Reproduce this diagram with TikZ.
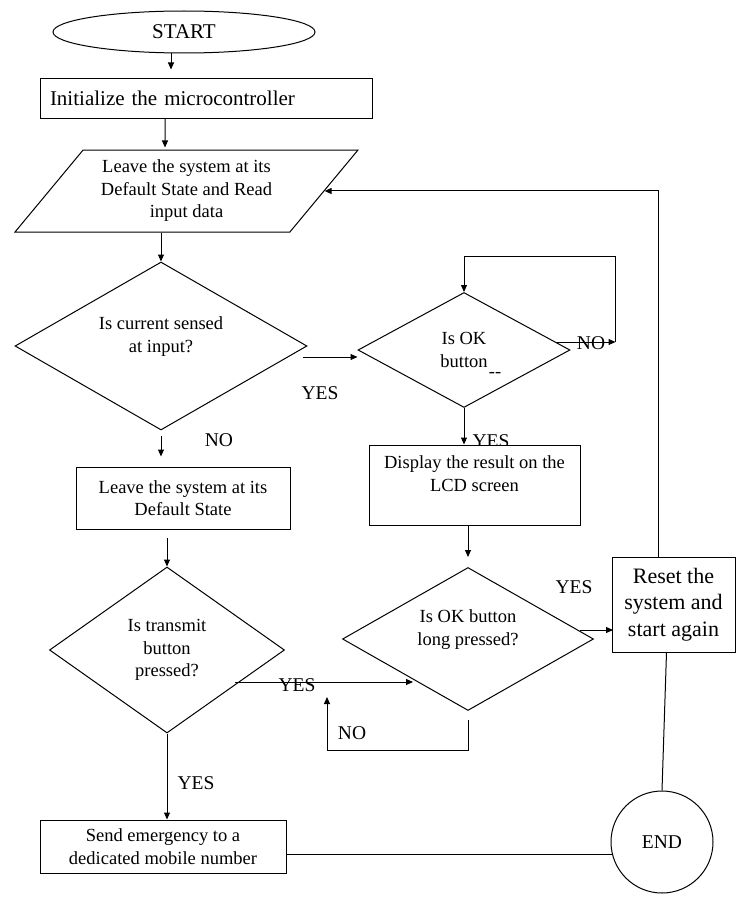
\documentclass[tikz,border=0pt]{standalone}
\usepackage{fontspec}
\setmainfont{Liberation Serif}
\usetikzlibrary{positioning, shapes.geometric, arrows.meta, calc}

\newcommand{\boxfont}{\fontsize{18.5}{22.5}\selectfont}
\newcommand{\lblfont}{\fontsize{19.5}{23}\selectfont}
\newcommand{\bigfont}{\fontsize{21}{25}\selectfont}
\newcommand{\resetfont}{\fontsize{22}{26.5}\selectfont}

\begin{document}
\begin{tikzpicture}[
  x=1pt, y=-1pt,
  >={Triangle[length=7pt, width=6pt]},
  line width=1pt,
  every node/.style={font=\boxfont},
  procbox/.style={draw, fill=white, align=center, inner sep=2pt},
  iobox/.style={draw, fill=white, trapezium, trapezium left angle=44,
               trapezium right angle=136, trapezium stretches body,
               align=center, inner sep=2pt},
  decision/.style={draw, fill=white, diamond, align=center, inner sep=0pt},
  answer/.style={font=\lblfont, inner sep=0pt}
]
\useasboundingbox (0,0) rectangle (741,899);

% ---- Start and initialisation ----
\node[draw, ellipse, minimum width=262pt, minimum height=42pt, font=\bigfont]
  (start) at (184,32) {START};
\node[procbox, minimum width=332pt, minimum height=40pt, text width=312pt,
      align=left, inner xsep=10pt, font=\bigfont]
  (init) at (206,98) {Initialize the microcontroller};
\node[iobox, minimum width=343pt, minimum height=82pt] (readin) at (186.5,191)
  {Leave the system at its\\Default State and Read\\input data};

% ---- Left column ----
\node[decision, minimum width=292pt, minimum height=168pt, aspect=1.74]
  (q1) at (161,346) {Is current sensed\\at input?\\\mbox{}};
\node[procbox, minimum width=214pt, minimum height=62pt] (dflt) at (183,498)
  {Leave the system at its\\Default State};
\node[decision, minimum width=235pt, minimum height=166pt, aspect=1.42]
  (q2) at (167,650) {Is transmit\\button\\pressed?};
\node[procbox, minimum width=246pt, minimum height=53pt] (send) at (163,846.5)
  {Send emergency to a\\dedicated mobile number};

% ---- Middle column ----
\node[decision, minimum width=212pt, minimum height=115pt, aspect=1.84]
  (q4) at (464,350) {Is OK\\button};
\node (q4mark) at (495,375) {-{}-};
\node[answer] (yes4) at (491,441) {YES};
\node[procbox, minimum width=211pt, minimum height=80pt] (disp) at (474.5,485)
  {Display the result on the\\LCD screen\\\mbox{}};
\node[decision, minimum width=251pt, minimum height=143pt, aspect=1.76]
  (q3) at (468,639) {Is OK button\\long pressed?\\\mbox{}};

% ---- Right column ----
\node[procbox, minimum width=123pt, minimum height=95pt, font=\resetfont]
  (reset) at (673.5,604.5) {Reset the\\system and\\start again};
\node[draw, circle, minimum size=102pt, font=\lblfont] (end) at (662,842) {END};

% ---- Answer labels ----
\node[answer] (yes1) at (320,393) {YES};
\node[answer] (no1) at (219,440) {NO};
\node[answer] (no4) at (591,343) {NO};
\node[answer] (yes2) at (297,685) {YES};
\node[answer] (no3) at (352,733) {NO};
\node[answer] (yes3) at (574,587) {YES};
\node[answer] (yes5) at (196,783) {YES};

% ---- Arrows ----
\draw[->] ($(start.south)+(-13,0)$) -- ($(init.north)+(-35,-8)$);
\draw[->] ($(init.south)+(-41,0)$) -- ($(readin.north)+(-21.5,-2)$);
\draw[->] (readin.south -| q1.north) -- (q1.north);
\draw[->] ($(q1.east)+(-5,11)$) -- ($(q4.west)+(0,7)$);
\draw[->, shorten <=5pt, shorten >=10pt] (q1.south) -- (q1.south |- dflt.north);
\draw[->, shorten <=8pt] (dflt.south -| q2.north) -- (q2.north);
\draw[->] (q2.south) -- (q2.south |- send.north);
\draw[->] ($(q2.east)+(-50,32)$) -- ($(q3.west)+(71,43)$);
\draw[->] ($(q3.south)+(0,9)$) -- ++(0,30) -| ($(q3.south)+(-141,-14)$);
\draw[->] ($(q3.east)+(-14,-9)$) -- ++(33,0);
\draw[->] ($(q4.east)+(-15,-8)$) -- ++(60,0) coordinate (nocorner);
\draw[->] (nocorner) -- ++(0,-86) -| (q4.north);
\draw[->] (q4.south) -- (q4.south |- disp.north);
\draw[->, shorten >=10pt] (disp.south -| q3.north) -- (q3.north);
\draw[->] ($(reset.north)+(-15,0)$) |- (readin.east);
\draw ($(reset.south)+(-7,0)$) -- (end.north);
\draw ($(send.east)+(0,7.5)$) -- ++(326.5,0);

\end{tikzpicture}
\end{document}
